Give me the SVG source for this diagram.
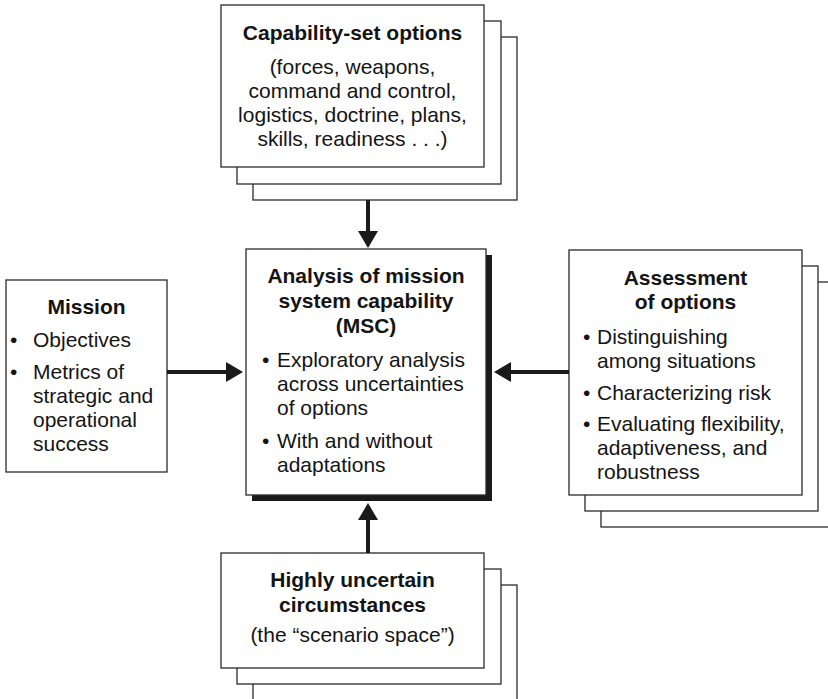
<svg xmlns="http://www.w3.org/2000/svg" width="828" height="699" viewBox="0 0 828 699">
<style>
  .bx { fill: #ffffff; stroke: #2a2a2a; stroke-width: 1.3; }
  .t { font-family: "Liberation Sans", Arial, Helvetica, sans-serif; font-size: 21px; fill: #141414; }
  .b { font-weight: bold; }
  .c { text-anchor: middle; }
  .arr { stroke: #1a1a1a; stroke-width: 4; fill: none; marker-end: url(#ah); }
</style>
<defs>
  <marker id="ah" viewBox="0 0 17 20" refX="9" refY="10" markerUnits="userSpaceOnUse" markerWidth="17" markerHeight="20" orient="auto">
    <path d="M0,0 L17,10 L0,20 Z" fill="#1a1a1a"/>
  </marker>
</defs>
<rect width="828" height="699" fill="#ffffff"/>

<g id="capability">
  <rect class="bx" x="253" y="37" width="264" height="163"/>
  <rect class="bx" x="237" y="21" width="264" height="163"/>
  <rect class="bx" x="221" y="5" width="263" height="162"/>
  <text class="t b c" x="352.5" y="40">Capability-set options</text>
  <text class="t c" x="352.5" y="74">(forces, weapons,</text>
  <text class="t c" x="352.5" y="98">command and control,</text>
  <text class="t c" x="352.5" y="122">logistics, doctrine, plans,</text>
  <text class="t c" x="352.5" y="146">skills, readiness . . .)</text>
</g>

<g id="mission">
  <rect class="bx" x="6" y="280" width="161" height="192"/>
  <text class="t b c" x="86.5" y="314">Mission</text>
  <text class="t" x="10" y="347">•</text>
  <text class="t" x="33" y="347">Objectives</text>
  <text class="t" x="10" y="379">•</text>
  <text class="t" x="33" y="379">Metrics of</text>
  <text class="t" x="33" y="403">strategic and</text>
  <text class="t" x="33" y="427">operational</text>
  <text class="t" x="33" y="451">success</text>
</g>

<g id="msc">
  <path d="M486,255 H492 V501 H252 V495 H486 Z" fill="#1a1a1a"/>
  <rect class="bx" x="246" y="249" width="240" height="246"/>
  <text class="t b c" x="366" y="283">Analysis of mission</text>
  <text class="t b c" x="366" y="308">system capability</text>
  <text class="t b c" x="366" y="333">(MSC)</text>
  <text class="t" x="262" y="367">•</text>
  <text class="t" x="277" y="367">Exploratory analysis</text>
  <text class="t" x="277" y="391">across uncertainties</text>
  <text class="t" x="277" y="415">of options</text>
  <text class="t" x="262" y="448">•</text>
  <text class="t" x="277" y="448">With and without</text>
  <text class="t" x="277" y="472">adaptations</text>
</g>

<g id="assessment">
  <rect class="bx" x="601" y="282" width="240" height="245"/>
  <rect class="bx" x="585" y="266" width="233" height="245"/>
  <rect class="bx" x="569" y="250" width="233" height="245"/>
  <text class="t b c" x="685.5" y="285">Assessment</text>
  <text class="t b c" x="685.5" y="309">of options</text>
  <text class="t" x="583" y="344">•</text>
  <text class="t" x="597" y="344">Distinguishing</text>
  <text class="t" x="597" y="368">among situations</text>
  <text class="t" x="583" y="400">•</text>
  <text class="t" x="597" y="400">Characterizing risk</text>
  <text class="t" x="583" y="431">•</text>
  <text class="t" x="597" y="431">Evaluating flexibility,</text>
  <text class="t" x="597" y="455">adaptiveness, and</text>
  <text class="t" x="597" y="479">robustness</text>
</g>

<g id="circumstances">
  <rect class="bx" x="253" y="585" width="264" height="130"/>
  <rect class="bx" x="237" y="569" width="264" height="115"/>
  <rect class="bx" x="221" y="553" width="263" height="115"/>
  <text class="t b c" x="352.5" y="587">Highly uncertain</text>
  <text class="t b c" x="352.5" y="612">circumstances</text>
  <text class="t c" x="352.5" y="642">(the “scenario space”)</text>
</g>

<g id="connectors">
  <line class="arr" x1="368" y1="200" x2="368" y2="240"/>
  <line class="arr" x1="167" y1="372" x2="235" y2="372"/>
  <line class="arr" x1="569" y1="372" x2="502" y2="372"/>
  <line class="arr" x1="368" y1="553" x2="368" y2="511"/>
</g>
</svg>
